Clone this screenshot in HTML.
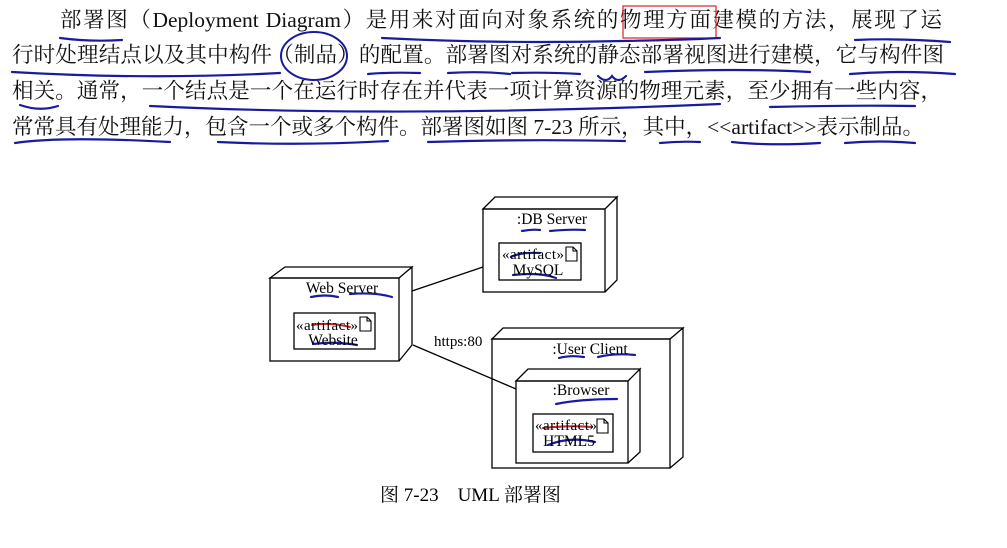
<!DOCTYPE html>
<html><head><meta charset="utf-8"><style>
body{margin:0;width:1007px;height:548px;background:#fff;overflow:hidden;position:relative;font-family:"Liberation Serif","Noto Serif CJK SC",serif;}
.l{position:absolute;font-size:21.5px;line-height:26px;white-space:nowrap;color:#111;text-align:justify;text-align-last:justify;}
svg{position:absolute;left:0;top:0}
</style></head><body>
<div class="l" style="left:60px;top:7px;width:882px">部署图（Deployment Diagram）是用来对面向对象系统的物理方面建模的方法，展现了运</div>
<div class="l" style="left:12px;top:42px;width:932px">行时处理结点以及其中构件（制品）的配置。部署图对系统的静态部署视图进行建模，它与构件图</div>
<div class="l" style="left:12px;top:78px;width:930px">相关。通常，一个结点是一个在运行时存在并代表一项计算资源的物理元素，至少拥有一些内容，</div>
<div class="l" style="left:12px;top:114px;width:905px">常常具有处理能力，包含一个或多个构件。部署图如图 7-23 所示，其中，&lt;&lt;artifact&gt;&gt;表示制品。</div>
<svg width="1007" height="548" viewBox="0 0 1007 548" font-family="Liberation Serif, Noto Serif CJK SC, serif" fill="none" stroke="#000" stroke-width="1.3">
<rect x="623" y="6" width="93" height="32" stroke="#d22" stroke-width="1.2"/>
<ellipse cx="314" cy="56" rx="33" ry="24" stroke="#1a1aa0" stroke-width="2"/>
<g stroke="#1a1aa0" stroke-width="2.2" stroke-linecap="round">
<path d="M60 38 Q90 42 122 40"/><path d="M382 38 Q500 44 622 41 Q680 40 720 38"/><path d="M855 40 Q900 38 950 42"/>
<path d="M12 72 Q150 80 280 73"/><path d="M368 74 Q390 72 420 73"/><path d="M448 73 Q480 71 510 74"/><path d="M512 73 Q550 72 580 74"/><path d="M645 72 Q740 68 810 72"/><path d="M850 74 Q900 70 955 74"/>
<path d="M598 76 Q606 84 612 76 Q618 84 626 76"/>
<path d="M20 105 Q40 112 58 106"/><path d="M150 106 Q400 118 720 104"/><path d="M770 107 Q850 105 915 106"/>
<path d="M15 143 Q60 136 170 142"/><path d="M218 142 Q300 146 388 141"/><path d="M428 142 Q520 139 625 141"/><path d="M660 143 Q680 141 700 142"/><path d="M732 142 Q770 146 820 143"/><path d="M845 143 Q880 140 915 143"/>
<path d="M522 231 Q532 229 540 230"/><path d="M550 231 Q570 229 585 230"/>
<path d="M511 257 Q520 252 540 253"/><path d="M513 275 Q540 272 556 278"/>
<path d="M311 297 Q325 294 338 297"/><path d="M350 294 Q375 292 392 297"/>
<path d="M313 344 Q335 341 357 345"/>
<path d="M559 358 Q570 355 584 357"/><path d="M598 357 Q615 353 635 355"/>
<path d="M556 404 Q580 399 617 399"/>
<path d="M548 445 Q570 436 595 442"/>
</g>
<g stroke="#c22" stroke-width="2" stroke-linecap="round">
<path d="M312 325 Q330 322 350 327"/><path d="M543 428 Q570 425 592 427"/>
</g>
<path d="M270 278 L285 267 L412 267 L399 278 Z M399 278 L412 267 L412 345 L399 361"/>
<rect x="270" y="278" width="129" height="83"/>
<rect x="294" y="313" width="81" height="36"/>
<path d="M483 209 L495 197 L617 197 L605 209 Z M605 209 L617 197 L617 280 L605 292"/>
<rect x="483" y="209" width="122" height="83"/>
<rect x="499" y="243" width="82" height="37"/>
<path d="M492 339 L503 328 L683 328 L670 339 Z M670 339 L683 328 L683 457 L670 468"/>
<rect x="492" y="339" width="178" height="129"/>
<path d="M516 381 L528 369 L640 369 L628 381 Z M628 381 L640 369 L640 452 L628 463"/>
<rect x="516" y="381" width="112" height="82"/>
<rect x="533" y="414" width="80" height="38"/>
<line x1="412" y1="291" x2="483" y2="267"/>
<line x1="413" y1="345" x2="516" y2="389"/>
<g stroke-width="1.1">
<path d="M360 317 h7 l4 4 v10 h-11 Z M367 317 v4 h4"/>
<path d="M566 247 h7 l4 4 v10 h-11 Z M573 247 v4 h4"/>
<path d="M597 419 h7 l4 4 v10 h-11 Z M604 419 v4 h4"/>
</g>
<g fill="#000" stroke="none" font-size="15.5">
<text x="342" y="293" text-anchor="middle">Web Server</text>
<text x="296" y="330" font-size="15" textLength="62">«artifact»</text>
<text x="333" y="345" text-anchor="middle">Website</text>
<text x="552" y="224" text-anchor="middle">:DB Server</text>
<text x="502" y="259" font-size="15" textLength="62">«artifact»</text>
<text x="538" y="275" text-anchor="middle">MySQL</text>
<text x="434" y="346" font-size="15">https:80</text>
<text x="590" y="354" text-anchor="middle">:User Client</text>
<text x="581" y="395" text-anchor="middle">:Browser</text>
<text x="535" y="430" font-size="15" textLength="62">«artifact»</text>
<text x="569" y="446" text-anchor="middle">HTML5</text>
<text x="380" y="501" font-size="19">图 7-23　UML 部署图</text>
</g>
</svg>
</body></html>
